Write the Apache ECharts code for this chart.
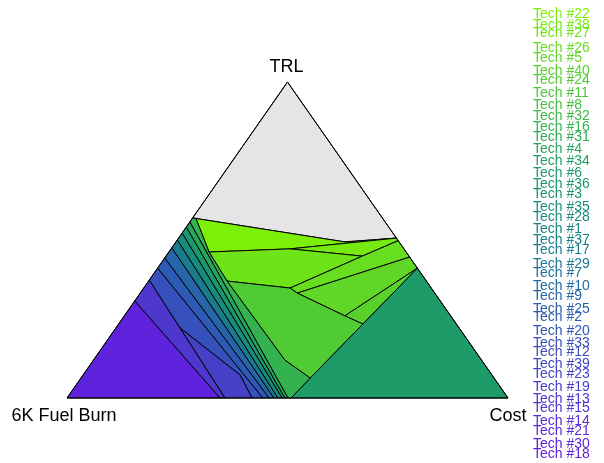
<!DOCTYPE html>
<html>
<head>
<meta charset="utf-8">
<script src="https://cdn.jsdelivr.net/npm/echarts@6/dist/echarts.min.js"></script>
<style>
html, body { margin: 0; padding: 0; background: #fff; }
#chart { width: 604px; height: 463px; }
</style>
</head>
<body>
<div id="chart"></div>
<script>
var axisNames = ['TRL', '6K Fuel Burn', 'Cost'];

var techNames = ['Tech #22', 'Tech #38', 'Tech #27', 'Tech #26', 'Tech #5', 'Tech #40', 'Tech #24', 'Tech #11',
    'Tech #8', 'Tech #32', 'Tech #16', 'Tech #31', 'Tech #4', 'Tech #34', 'Tech #6', 'Tech #36', 'Tech #3',
    'Tech #35', 'Tech #28', 'Tech #1', 'Tech #37', 'Tech #17', 'Tech #29', 'Tech #7', 'Tech #10', 'Tech #9',
    'Tech #25', 'Tech #2', 'Tech #20', 'Tech #33', 'Tech #12', 'Tech #39', 'Tech #23', 'Tech #19', 'Tech #13',
    'Tech #15', 'Tech #14', 'Tech #21', 'Tech #30', 'Tech #18'];
// vertical place of each label in the side list
var labelPos = [14, 25, 33, 48, 58, 71, 80, 93, 105, 116, 127, 137, 149, 161, 173, 184, 194, 207, 217, 229,
    240, 250, 264, 273, 286, 296, 309, 317, 331, 343, 352, 364, 374, 387, 399, 408, 421, 431, 444, 454];

// region corners as [TRL %, Cost %]; 6K Fuel Burn share is the rest
var noTech = [[100, 0], [50.6, 49.4], [49.4, 38.3], [57, 0]];
var tech22 = [[56.8, 0.85], [49.4, 38.3], [50.6, 49.4], [47.2, 27.0], [46.2, 9.1]];
var tech38 = [[47.2, 27.0], [50.6, 49.4], [49.8, 50.2], [44.9, 44.5]];
var tech27 = [[46.2, 9.1], [47.2, 27.0], [44.9, 44.5], [34.8, 33.2], [37.0, 17.8]];
var tech26 = [[34.8, 33.2], [44.9, 44.5], [49.8, 50.2], [44.6, 55.4], [33.2, 35.6]];
var tech5 = [[33.2, 35.6], [44.6, 55.4], [41.1, 58.9], [26.0, 50.0]];
var tech40 = [[26.0, 50.0], [41.1, 58.9], [23.4, 55.4]];
var tech24 = [[37.0, 17.8], [34.8, 33.2], [33.2, 35.6], [26.0, 50.0], [23.4, 55.4], [6.3, 52.0], [12.0, 43.4]];
var tech6 = [[41.1, 58.9], [0, 100], [0, 50.8], [6.3, 52.0], [23.4, 55.4]];
var tech16 = [[57, 0], [56.8, 0.85], [46.2, 9.1], [37.0, 17.8], [12.0, 43.4], [6.3, 52.0], [0, 50.8], [0, 50.1], [55.7, 0]];
var tech4 = [[55.7, 0], [0, 50.1], [0, 49.4], [54.1, 0]];
var tech36 = [[54.1, 0], [0, 49.4], [0, 48.75], [52.2, 0]];
var tech28 = [[52.2, 0], [0, 48.75], [0, 47.8], [50.0, 0]];
var tech17 = [[50.0, 0], [0, 47.8], [0, 46.9], [47.5, 0]];
var tech9 = [[47.5, 0], [0, 46.9], [0, 45.8], [44.3, 0]];
var tech2 = [[44.3, 0], [0, 45.8], [0, 44.4], [41.1, 0]];
var tech33 = [[41.1, 0], [0, 44.4], [0, 41.95], [7.3, 35.6], [22.2, 14.5], [37.3, 0]];
var tech23 = [[22.2, 14.5], [7.3, 35.6], [0, 41.95], [0, 35.8]];
var tech13 = [[37.3, 0], [0, 35.8], [0, 34.7], [30.7, 0]];
var tech30 = [[30.7, 0], [0, 34.7], [0, 0]];

var regions = [
    {tech: null, pts: noTech},
    {tech: 'Tech #22', pts: tech22},
    {tech: 'Tech #38', pts: tech38},
    {tech: 'Tech #27', pts: tech27},
    {tech: 'Tech #26', pts: tech26},
    {tech: 'Tech #5', pts: tech5},
    {tech: 'Tech #40', pts: tech40},
    {tech: 'Tech #24', pts: tech24},
    {tech: 'Tech #6', pts: tech6},
    {tech: 'Tech #16', pts: tech16},
    {tech: 'Tech #4', pts: tech4},
    {tech: 'Tech #36', pts: tech36},
    {tech: 'Tech #28', pts: tech28},
    {tech: 'Tech #17', pts: tech17},
    {tech: 'Tech #9', pts: tech9},
    {tech: 'Tech #2', pts: tech2},
    {tech: 'Tech #33', pts: tech33},
    {tech: 'Tech #23', pts: tech23},
    {tech: 'Tech #13', pts: tech13},
    {tech: 'Tech #30', pts: tech30}
];

// colour ramp along the label list: green -> teal -> blue -> purple
var stops = [[0, [125, 240, 10]], [13, [30, 160, 100]], [20, [20, 130, 135]], [27, [45, 90, 180]], [39, [100, 30, 225]]];
function techColor(name) {
    if (!name) return '#e5e5e5';
    var i = techNames.indexOf(name);
    for (var k = 0; k < stops.length - 1; k++) {
        var a = stops[k], b = stops[k + 1];
        if (i <= b[0]) {
            var t = (i - a[0]) / (b[0] - a[0]);
            var c = a[1].map(function (v, j) { return Math.round(v + (b[1][j] - v) * t); });
            return 'rgb(' + c.join(',') + ')';
        }
    }
    return 'rgb(100,30,225)';
}

// ternary [TRL, Cost] -> plane
function toPlane(p) {
    return [p[1] + p[0] / 2, p[0]];
}

var chart = echarts.init(document.getElementById('chart'));

var option = {
    animation: false,
    grid: [
        {left: 67, top: 82, width: 441, height: 316},
        {left: 533, top: 0, width: 60, height: 463}
    ],
    xAxis: [
        {gridIndex: 0, type: 'value', min: 0, max: 100, show: false},
        {gridIndex: 1, type: 'value', min: 0, max: 1, show: false}
    ],
    yAxis: [
        {gridIndex: 0, type: 'value', min: 0, max: 100, show: false},
        {gridIndex: 1, type: 'value', min: 0, max: 463, inverse: true, show: false}
    ],
    series: [
        {
            type: 'custom',
            xAxisIndex: 0,
            yAxisIndex: 0,
            silent: true,
            clip: false,
            data: regions.map(function (r, i) { return [i, 0]; }),
            renderItem: function (params, api) {
                var r = regions[params.dataIndex];
                var pts = r.pts.map(function (p) { return api.coord(toPlane(p)); });
                return {
                    type: 'polygon',
                    shape: {points: pts},
                    style: {fill: techColor(r.tech), stroke: '#000', lineWidth: 1}
                };
            }
        },
        {
            type: 'custom',
            xAxisIndex: 0,
            yAxisIndex: 0,
            silent: true,
            clip: false,
            data: [[0, 0]],
            renderItem: function (params, api) {
                var top = api.coord(toPlane([100, 0]));
                var left = api.coord(toPlane([0, 0]));
                var right = api.coord(toPlane([0, 100]));
                var font = '18px "Liberation Sans", Arial, sans-serif';
                return {
                    type: 'group',
                    children: [
                        {type: 'polygon', shape: {points: [top, left, right]},
                            style: {fill: 'none', stroke: '#000', lineWidth: 1}},
                        {type: 'text', style: {text: axisNames[0], x: top[0] - 1, y: top[1] - 15,
                            fill: '#000', font: font, align: 'center', verticalAlign: 'middle'}},
                        {type: 'text', style: {text: axisNames[1], x: left[0] - 3, y: left[1] + 18,
                            fill: '#000', font: font, align: 'center', verticalAlign: 'middle'}},
                        {type: 'text', style: {text: axisNames[2], x: right[0], y: right[1] + 18,
                            fill: '#000', font: font, align: 'center', verticalAlign: 'middle'}}
                    ]
                };
            }
        },
        {
            type: 'custom',
            xAxisIndex: 1,
            yAxisIndex: 1,
            silent: true,
            clip: false,
            data: techNames.map(function (n, i) { return [0, labelPos[i]]; }),
            renderItem: function (params, api) {
                var pt = api.coord([0, api.value(1)]);
                var name = techNames[params.dataIndex];
                return {
                    type: 'text',
                    style: {text: name, x: pt[0], y: pt[1], fill: techColor(name),
                        font: '14px "Liberation Sans", Arial, sans-serif', align: 'left', verticalAlign: 'middle'}
                };
            }
        }
    ]
};

chart.setOption(option);
window.addEventListener('resize', function () {
    chart.resize();
});
</script>
</body>
</html>
